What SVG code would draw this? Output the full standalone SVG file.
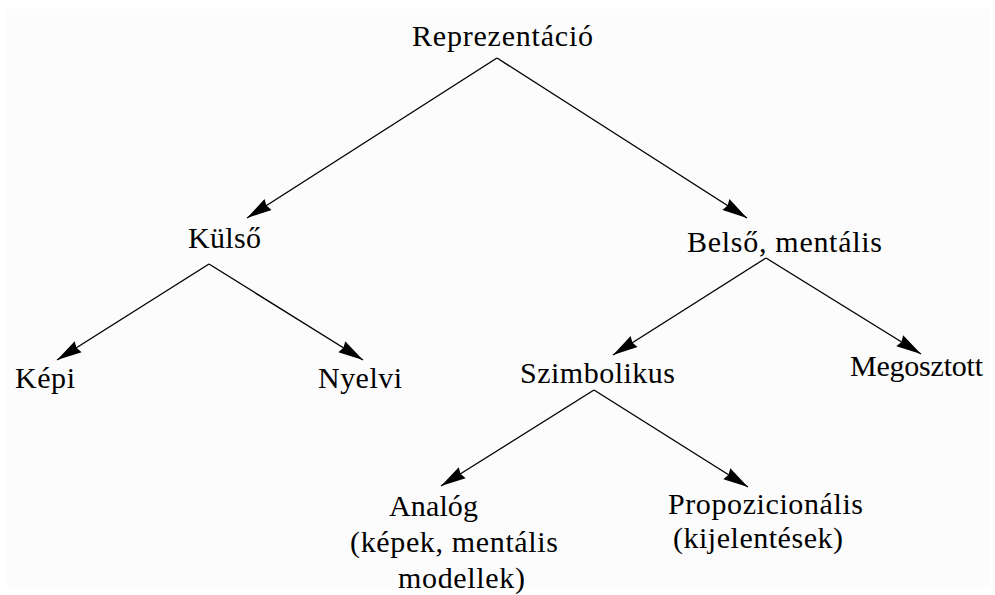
<svg xmlns="http://www.w3.org/2000/svg" width="995" height="595" viewBox="0 0 995 595">
<defs>
<style>
text{font-family:"Liberation Serif","Times New Roman",serif;font-size:30px;fill:#000;}
.c{stroke:#000;stroke-width:1.4;fill:none;marker-end:url(#ah);}
</style>
<marker id="ah" markerUnits="userSpaceOnUse" markerWidth="26" markerHeight="14" refX="25" refY="7" orient="auto" overflow="visible">
<path d="M0,0.5 L25,7 L0,13.5 L2,7 z" fill="#000"/>
</marker>
</defs>
<rect width="995" height="595" fill="#fff"/>
<rect x="6" y="9" width="984" height="578" fill="#fcfcfc"/>
<g id="connectors">
<line class="c" x1="497" y1="58" x2="247" y2="218"/>
<line class="c" x1="497" y1="58" x2="747" y2="218"/>
<line class="c" x1="209" y1="264" x2="57" y2="360"/>
<line class="c" x1="209" y1="264" x2="363" y2="360"/>
<line class="c" x1="766" y1="258" x2="613" y2="355"/>
<line class="c" x1="766" y1="258" x2="921" y2="354"/>
<line class="c" x1="594" y1="390" x2="441" y2="486"/>
<line class="c" x1="594" y1="390" x2="748" y2="487"/>
</g>
<g id="n-reprezentacio"><text x="412" y="46" textLength="181" lengthAdjust="spacing">Reprezentáció</text></g>
<g id="n-kulso"><text x="188" y="248" textLength="73" lengthAdjust="spacing">Külső</text></g>
<g id="n-belso"><text x="687" y="252" textLength="195" lengthAdjust="spacing">Belső, mentális</text></g>
<g id="n-kepi"><text x="15" y="388" textLength="60" lengthAdjust="spacing">Képi</text></g>
<g id="n-nyelvi"><text x="318" y="388" textLength="84" lengthAdjust="spacing">Nyelvi</text></g>
<g id="n-szimbolikus"><text x="520" y="383" textLength="155" lengthAdjust="spacing">Szimbolikus</text></g>
<g id="n-megosztott"><text x="850" y="376" textLength="133" lengthAdjust="spacing">Megosztott</text></g>
<g id="n-analog">
<text x="389" y="516" textLength="89" lengthAdjust="spacing">Analóg</text>
<text x="350" y="552" textLength="208" lengthAdjust="spacing">(képek, mentális</text>
<text x="398" y="588" textLength="127" lengthAdjust="spacing">modellek)</text>
</g>
<g id="n-propozicionalis">
<text x="668" y="514" textLength="195" lengthAdjust="spacing">Propozicionális</text>
<text x="673" y="548" textLength="170" lengthAdjust="spacing">(kijelentések)</text>
</g>
</svg>
